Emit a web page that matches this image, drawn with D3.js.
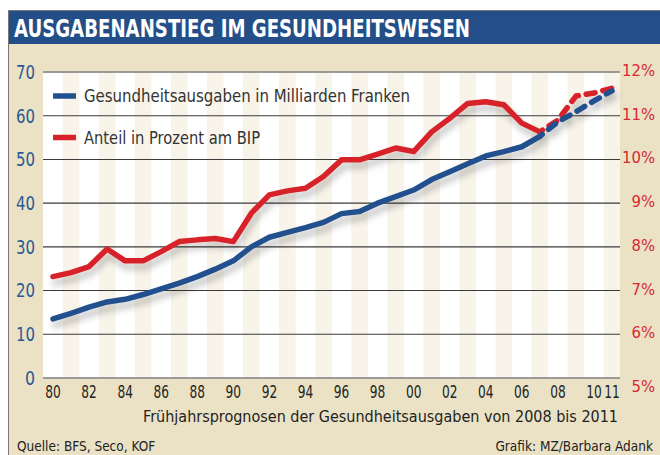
<!DOCTYPE html>
<html><head><meta charset="utf-8">
<script src="https://cdn.jsdelivr.net/npm/d3@7/dist/d3.min.js"></script>
<style>
html,body{margin:0;padding:0;background:#fff;}
svg{display:block;}
text{font-family:"Liberation Sans Narrow","DejaVu Sans Condensed","Roboto",sans-serif;}
</style></head>
<body>
<script>
// ---- data ----
const years = [1980,1981,1982,1983,1984,1985,1986,1987,1988,1989,1990,1991,1992,1993,1994,1995,1996,1997,1998,1999,2000,2001,2002,2003,2004,2005,2006,2007,2008,2009,2010,2011];
const ausgaben = [13.5,14.8,16.2,17.4,18.0,19.1,20.4,21.7,23.2,24.9,26.8,30.0,32.2,33.3,34.4,35.6,37.6,38.1,40.0,41.5,43.0,45.4,47.2,49.0,50.8,51.8,52.9,55.3,58.6,60.9,63.4,65.7];
const anteil = [7.32,7.41,7.55,7.95,7.68,7.68,7.89,8.12,8.16,8.19,8.12,8.77,9.19,9.28,9.34,9.61,9.99,9.99,10.12,10.26,10.18,10.63,10.94,11.28,11.32,11.25,10.83,10.63,10.9,11.45,11.52,11.63];
const lastActual = 2007; // forecast (dashed) after this year
const leftTicks = [0,10,20,30,40,50,60,70];
const rightTicks = [5,6,7,8,9,10,11,12];
const xTickYears = [1980,1982,1984,1986,1988,1990,1992,1994,1996,1998,2000,2002,2004,2006,2008,2010,2011];
const title = "AUSGABENANSTIEG IM GESUNDHEITSWESEN";
const legendLabels = ["Gesundheitsausgaben in Milliarden Franken","Anteil in Prozent am BIP"];
const subtitle = "Frühjahrsprognosen der Gesundheitsausgaben von 2008 bis 2011";
const source = "Quelle: BFS, Seco, KOF";
const credit = "Grafik: MZ/Barbara Adank";

const W=660,H=455;
const BLUE="#23508e", RED="#d8222b", BEIGE="#ebe2c6", STRIPE="#f8f4ea";
const svg=d3.select("body").append("svg").attr("width",W).attr("height",H);

// shrink text horizontally only if wider than target width
function fit(sel,w){
  sel.each(function(d){
    const tw=typeof w==="function"?w(d):w;
    if(this.getComputedTextLength()>tw){
      d3.select(this).attr("textLength",tw).attr("lengthAdjust","spacingAndGlyphs");
    }
  });
  return sel;
}
// shrink font size so the natural width fits
function fitSize(sel,w){
  sel.each(function(){
    const fs=+d3.select(this).attr("font-size");
    const len=this.getComputedTextLength();
    if(len>w) d3.select(this).attr("font-size",fs*w/len);
  });
  return sel;
}

const defs=svg.append("defs");
const f=defs.append("filter").attr("id","sh").attr("x","-10%").attr("y","-20%").attr("width","130%").attr("height","160%");
f.append("feDropShadow").attr("dx",2).attr("dy",6).attr("stdDeviation",3.5).attr("flood-color","#000").attr("flood-opacity",0.26);

// frame + background
svg.append("rect").attr("x",8).attr("y",10).attr("width",W-8).attr("height",H-10).attr("fill",BEIGE);
svg.append("rect").attr("x",8).attr("y",11).attr("width",W-8).attr("height",33).attr("fill","#234e87");
svg.append("line").attr("x1",8).attr("x2",W).attr("y1",10.5).attr("y2",10.5).attr("stroke","#777").attr("stroke-width",1);
svg.append("line").attr("x1",8.5).attr("x2",8.5).attr("y1",10).attr("y2",H).attr("stroke","#777").attr("stroke-width",1);
fit(svg.append("text").attr("x",14).attr("y",37).attr("fill","#fff").attr("font-weight","bold").attr("font-size",25).text(title),456);

// scales
const pl=43, pr=620, pt=72, pb=378;
const x=d3.scaleLinear().domain([1980,2011]).range([53,612]);
const yL=d3.scaleLinear().domain([0,70]).range([pb,pt]);
const yR=d3.scaleLinear().domain([5,12]).range([pb,pt]);

// plot bg + stripes
svg.append("rect").attr("x",pl).attr("y",pt).attr("width",pr-pl).attr("height",pb-pt).attr("fill","#fff");
const oddYears=years.filter(y=>y%2===1);
const bw=(x(1981)-x(1980))*0.92;
svg.append("g").selectAll("rect").data(oddYears).join("rect")
  .attr("x",d=>Math.max(pl,x(d)-bw/2)).attr("y",pt)
  .attr("width",d=>Math.min(pr,x(d)+bw/2)-Math.max(pl,x(d)-bw/2)).attr("height",pb-pt).attr("fill",STRIPE);

// gridlines
svg.append("g").selectAll("line").data(leftTicks).join("line")
  .attr("x1",pl).attr("x2",pr).attr("y1",d=>yL(d)).attr("y2",d=>yL(d))
  .attr("stroke",d=>(d===0||d===70)?"#9a9a9a":"#3a3a3a")
  .attr("stroke-width",d=>(d===0||d===70)?2:1.1);

// left axis labels
fit(svg.append("g").selectAll("text").data(leftTicks).join("text")
  .attr("x",35).attr("y",d=>yL(d)).attr("dy","0.36em").attr("text-anchor","end")
  .attr("fill","#2a5994").attr("font-size",19).text(d=>d),d=>d===0?10:19);
// right axis labels
svg.append("g").selectAll("text").data(rightTicks).join("text")
  .attr("x",655).attr("y",d=>d===5?yR(d)+8:yR(d)-2).attr("dy","0.36em").attr("text-anchor","end")
  .attr("fill","#d42a30").attr("font-size",16.5).text(d=>d+"%");
// x labels
fit(svg.append("g").selectAll("text").data(xTickYears).join("text")
  .attr("x",d=>x(d)).attr("y",398).attr("text-anchor","middle")
  .attr("fill","#222").attr("font-size",17.5).text(d=>String(d).slice(2)),15.5);

// lines
const rows=years.map((yr,i)=>({yr,a:ausgaben[i],p:anteil[i]}));
const actual=rows.filter(r=>r.yr<=lastActual), fc=rows.filter(r=>r.yr>=lastActual);
const lineA=d3.line().x(d=>x(d.yr)).y(d=>yL(d.a));
const lineP=d3.line().x(d=>x(d.yr)).y(d=>yR(d.p));
const g=svg.append("g").attr("filter","url(#sh)").attr("fill","none").attr("stroke-width",5.5).attr("stroke-linejoin","round");
g.append("path").attr("d",lineP(actual)).attr("stroke",RED).attr("stroke-linecap","round");
g.append("path").attr("d",lineA(actual)).attr("stroke",BLUE).attr("stroke-linecap","round");
g.append("path").attr("d",lineP(fc)).attr("stroke",RED).attr("stroke-dasharray","9,8").attr("stroke-dashoffset",-11).attr("stroke-linecap","round");
g.append("path").attr("d",lineA(fc)).attr("stroke",BLUE).attr("stroke-dasharray","9,8").attr("stroke-dashoffset",-11).attr("stroke-linecap","round");

// legend
const leg=[{c:BLUE,y:96,t:legendLabels[0],w:326},{c:RED,y:137.5,t:legendLabels[1],w:176}];
const lg=svg.append("g").selectAll("g").data(leg).join("g");
lg.append("line").attr("x1",53).attr("x2",76).attr("y1",d=>d.y).attr("y2",d=>d.y).attr("stroke",d=>d.c).attr("stroke-width",5.5);
fit(lg.append("text").attr("x",84).attr("y",d=>d.y+6).attr("fill","#333").attr("font-size",18.5).text(d=>d.t),d=>d.w);

// subtitle + footer
fitSize(svg.append("text").attr("x",618).attr("y",422).attr("text-anchor","end").attr("fill","#222").attr("font-size",17.5).text(subtitle),475);
svg.append("text").attr("x",17).attr("y",451).attr("fill","#222").attr("font-size",13.5).text(source);
svg.append("text").attr("x",653).attr("y",451).attr("text-anchor","end").attr("fill","#222").attr("font-size",13.5).text(credit);
</script>
</body></html>
